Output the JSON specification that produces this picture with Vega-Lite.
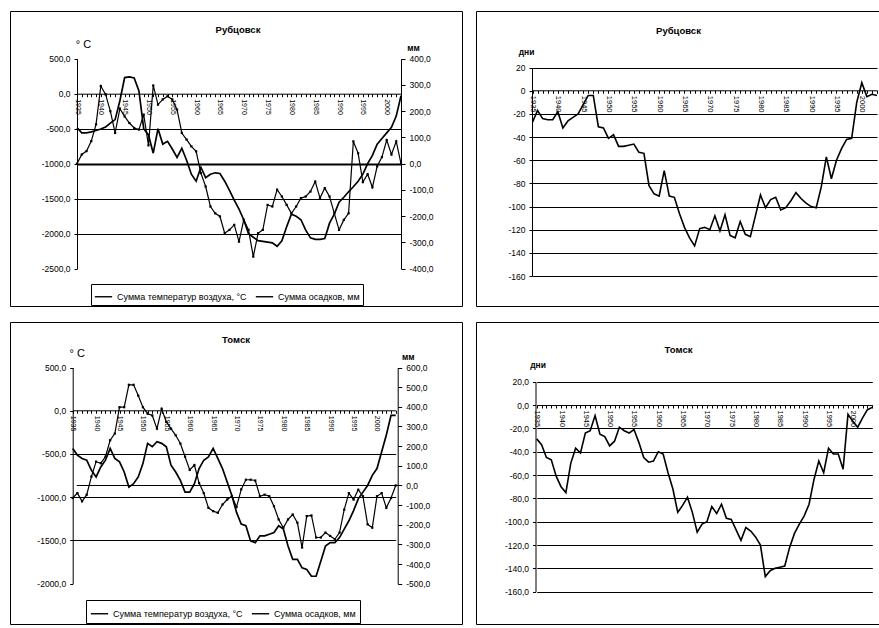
{
  "$schema": "https://vega.github.io/schema/vega-lite/v6.json",
  "background": "white",
  "padding": {"left": 9, "top": 10, "right": 0, "bottom": 0},
  "config": {
    "font": "Liberation Sans",
    "axis": {"labelFont": "Liberation Sans", "labelFontSize": 8.5, "labelColor": "#000", "domainColor": "#000", "tickColor": "#000", "gridColor": "#000", "titleFont": "Liberation Sans", "titleColor": "#000", "titleFontWeight": "normal", "labelOverlap": false},
    "title": {"font": "Liberation Sans", "fontSize": 9.5, "fontWeight": "bold", "color": "#000"},
    "legend": {"labelFont": "Liberation Sans", "labelColor": "#000"}
  },
  "datasets": {
    "rub": [
      {"year":1935,"T":-485,"P":0},{"year":1936,"T":-560,"P":35},{"year":1937,"T":-560,"P":48},{"year":1938,"T":-545,"P":86},{"year":1939,"T":-525,"P":150},
      {"year":1940,"T":-505,"P":296},{"year":1941,"T":-475,"P":264},{"year":1942,"T":-420,"P":200},{"year":1943,"T":-370,"P":117},{"year":1944,"T":-100,"P":210},
      {"year":1945,"T":230,"P":180},{"year":1946,"T":240,"P":155},{"year":1947,"T":225,"P":136},{"year":1948,"T":40,"P":130},{"year":1949,"T":-500,"P":187},
      {"year":1950,"T":-590,"P":70},{"year":1951,"T":-850,"P":298},{"year":1952,"T":-500,"P":225},{"year":1953,"T":-720,"P":245},{"year":1954,"T":-680,"P":257},
      {"year":1955,"T":-790,"P":245},{"year":1956,"T":-910,"P":206},{"year":1957,"T":-780,"P":117},{"year":1958,"T":-950,"P":92},{"year":1959,"T":-1150,"P":66},
      {"year":1960,"T":-1250,"P":47},{"year":1961,"T":-1050,"P":-36},{"year":1962,"T":-1200,"P":-87},{"year":1963,"T":-1150,"P":-163},{"year":1964,"T":-1130,"P":-189},
      {"year":1965,"T":-1140,"P":-201},{"year":1966,"T":-1250,"P":-265},{"year":1967,"T":-1380,"P":-252},{"year":1968,"T":-1520,"P":-233},{"year":1969,"T":-1650,"P":-297},
      {"year":1970,"T":-1800,"P":-214},{"year":1971,"T":-2000,"P":-252},{"year":1972,"T":-2050,"P":-354},{"year":1973,"T":-2100,"P":-265},{"year":1974,"T":-2110,"P":-252},
      {"year":1975,"T":-2120,"P":-157},{"year":1976,"T":-2130,"P":-163},{"year":1977,"T":-2180,"P":-99},{"year":1978,"T":-2100,"P":-125},{"year":1979,"T":-1900,"P":-157},
      {"year":1980,"T":-1720,"P":-189},{"year":1981,"T":-1750,"P":-163},{"year":1982,"T":-1800,"P":-131},{"year":1983,"T":-1950,"P":-125},{"year":1984,"T":-2060,"P":-106},
      {"year":1985,"T":-2080,"P":-68},{"year":1986,"T":-2080,"P":-131},{"year":1987,"T":-2070,"P":-93},{"year":1988,"T":-1850,"P":-125},{"year":1989,"T":-1720,"P":-189},
      {"year":1990,"T":-1550,"P":-252},{"year":1991,"T":-1480,"P":-214},{"year":1992,"T":-1400,"P":-189},{"year":1993,"T":-1330,"P":85},{"year":1994,"T":-1250,"P":40},
      {"year":1995,"T":-1150,"P":-70},{"year":1996,"T":-1000,"P":-40},{"year":1997,"T":-880,"P":-90},{"year":1998,"T":-720,"P":-10},{"year":1999,"T":-640,"P":25},
      {"year":2000,"T":-560,"P":90},{"year":2001,"T":-480,"P":35},{"year":2002,"T":-320,"P":85},{"year":2003,"T":-30,"P":0}
    ],
    "rubd": [
      {"year":1935,"D":-27},{"year":1936,"D":-17},{"year":1937,"D":-24},{"year":1938,"D":-25},{"year":1939,"D":-25},
      {"year":1940,"D":-18},{"year":1941,"D":-32},{"year":1942,"D":-26},{"year":1943,"D":-23},{"year":1944,"D":-20},
      {"year":1945,"D":-12},{"year":1946,"D":-4},{"year":1947,"D":-4},{"year":1948,"D":-31},{"year":1949,"D":-32},
      {"year":1950,"D":-41},{"year":1951,"D":-38},{"year":1952,"D":-48},{"year":1953,"D":-48},{"year":1954,"D":-47},
      {"year":1955,"D":-46},{"year":1956,"D":-53},{"year":1957,"D":-54},{"year":1958,"D":-82},{"year":1959,"D":-89},
      {"year":1960,"D":-91},{"year":1961,"D":-69},{"year":1962,"D":-91},{"year":1963,"D":-92},{"year":1964,"D":-106},
      {"year":1965,"D":-118},{"year":1966,"D":-127},{"year":1967,"D":-134},{"year":1968,"D":-119},{"year":1969,"D":-118},
      {"year":1970,"D":-120},{"year":1971,"D":-108},{"year":1972,"D":-121},{"year":1973,"D":-107},{"year":1974,"D":-125},
      {"year":1975,"D":-127},{"year":1976,"D":-113},{"year":1977,"D":-124},{"year":1978,"D":-126},{"year":1979,"D":-108},
      {"year":1980,"D":-90},{"year":1981,"D":-101},{"year":1982,"D":-94},{"year":1983,"D":-92},{"year":1984,"D":-103},
      {"year":1985,"D":-101},{"year":1986,"D":-95},{"year":1987,"D":-88},{"year":1988,"D":-93},{"year":1989,"D":-97},
      {"year":1990,"D":-100},{"year":1991,"D":-101},{"year":1992,"D":-83},{"year":1993,"D":-57},{"year":1994,"D":-76},
      {"year":1995,"D":-60},{"year":1996,"D":-50},{"year":1997,"D":-42},{"year":1998,"D":-41},{"year":1999,"D":-10},
      {"year":2000,"D":7},{"year":2001,"D":-5},{"year":2002,"D":-3},{"year":2003,"D":-4}
    ],
    "tom": [
      {"year":1935,"T":-436,"P":-64},{"year":1936,"T":-513,"P":-39},{"year":1937,"T":-552,"P":-81},{"year":1938,"T":-572,"P":-47},{"year":1939,"T":-689,"P":45},
      {"year":1940,"T":-766,"P":121},{"year":1941,"T":-650,"P":113},{"year":1942,"T":-572,"P":146},{"year":1943,"T":-436,"P":230},{"year":1944,"T":-552,"P":264},
      {"year":1945,"T":-591,"P":398},{"year":1946,"T":-708,"P":398},{"year":1947,"T":-883,"P":512},{"year":1948,"T":-844,"P":512},{"year":1949,"T":-766,"P":457},
      {"year":1950,"T":-611,"P":398},{"year":1951,"T":-377,"P":365},{"year":1952,"T":-416,"P":356},{"year":1953,"T":-358,"P":289},{"year":1954,"T":-377,"P":390},
      {"year":1955,"T":-416,"P":323},{"year":1956,"T":-630,"P":289},{"year":1957,"T":-708,"P":255},{"year":1958,"T":-805,"P":213},{"year":1959,"T":-941,"P":146},
      {"year":1960,"T":-941,"P":79},{"year":1961,"T":-844,"P":104},{"year":1962,"T":-669,"P":12},{"year":1963,"T":-572,"P":-39},{"year":1964,"T":-533,"P":-114},
      {"year":1965,"T":-436,"P":-131},{"year":1966,"T":-552,"P":-139},{"year":1967,"T":-669,"P":-97},{"year":1968,"T":-825,"P":-72},{"year":1969,"T":-980,"P":-55},
      {"year":1970,"T":-1175,"P":-110},{"year":1971,"T":-1311,"P":-20},{"year":1972,"T":-1330,"P":29},{"year":1973,"T":-1505,"P":29},{"year":1974,"T":-1525,"P":25},
      {"year":1975,"T":-1447,"P":-55},{"year":1976,"T":-1447,"P":-47},{"year":1977,"T":-1428,"P":-55},{"year":1978,"T":-1408,"P":-106},{"year":1979,"T":-1330,"P":-173},
      {"year":1980,"T":-1369,"P":-215},{"year":1981,"T":-1564,"P":-173},{"year":1982,"T":-1719,"P":-148},{"year":1983,"T":-1719,"P":-190},{"year":1984,"T":-1817,"P":-316},
      {"year":1985,"T":-1836,"P":-156},{"year":1986,"T":-1914,"P":-153},{"year":1987,"T":-1914,"P":-265},{"year":1988,"T":-1739,"P":-265},{"year":1989,"T":-1564,"P":-240},
      {"year":1990,"T":-1525,"P":-257},{"year":1991,"T":-1525,"P":-274},{"year":1992,"T":-1467,"P":-240},{"year":1993,"T":-1369,"P":-123},{"year":1994,"T":-1272,"P":-39},
      {"year":1995,"T":-1155,"P":-72},{"year":1996,"T":-1019,"P":-22},{"year":1997,"T":-941,"P":-55},{"year":1998,"T":-864,"P":-198},{"year":1999,"T":-747,"P":-215},
      {"year":2000,"T":-669,"P":-55},{"year":2001,"T":-475,"P":-39},{"year":2002,"T":-280,"P":-114},{"year":2003,"T":-54,"P":-64},{"year":2004,"T":-54,"P":0}
    ],
    "tomd": [
      {"year":1935,"D":-29},{"year":1936,"D":-34},{"year":1937,"D":-45},{"year":1938,"D":-47},{"year":1939,"D":-61},
      {"year":1940,"D":-70},{"year":1941,"D":-75},{"year":1942,"D":-50},{"year":1943,"D":-37},{"year":1944,"D":-41},
      {"year":1945,"D":-24},{"year":1946,"D":-22},{"year":1947,"D":-9},{"year":1948,"D":-25},{"year":1949,"D":-27},
      {"year":1950,"D":-35},{"year":1951,"D":-31},{"year":1952,"D":-19},{"year":1953,"D":-22},{"year":1954,"D":-24},
      {"year":1955,"D":-21},{"year":1956,"D":-32},{"year":1957,"D":-45},{"year":1958,"D":-49},{"year":1959,"D":-48},
      {"year":1960,"D":-40},{"year":1961,"D":-42},{"year":1962,"D":-58},{"year":1963,"D":-72},{"year":1964,"D":-92},
      {"year":1965,"D":-86},{"year":1966,"D":-79},{"year":1967,"D":-92},{"year":1968,"D":-109},{"year":1969,"D":-102},
      {"year":1970,"D":-100},{"year":1971,"D":-87},{"year":1972,"D":-93},{"year":1973,"D":-85},{"year":1974,"D":-97},
      {"year":1975,"D":-98},{"year":1976,"D":-107},{"year":1977,"D":-116},{"year":1978,"D":-105},{"year":1979,"D":-108},
      {"year":1980,"D":-113},{"year":1981,"D":-120},{"year":1982,"D":-147},{"year":1983,"D":-142},{"year":1984,"D":-140},
      {"year":1985,"D":-139},{"year":1986,"D":-138},{"year":1987,"D":-122},{"year":1988,"D":-110},{"year":1989,"D":-102},
      {"year":1990,"D":-95},{"year":1991,"D":-85},{"year":1992,"D":-64},{"year":1993,"D":-48},{"year":1994,"D":-58},
      {"year":1995,"D":-37},{"year":1996,"D":-42},{"year":1997,"D":-42},{"year":1998,"D":-55},{"year":1999,"D":-8},
      {"year":2000,"D":-14},{"year":2001,"D":-19},{"year":2002,"D":-11},{"year":2003,"D":-4},{"year":2004,"D":-2}
    ]
  },
  "columns": 2,
  "spacing": {"row": 16, "column": 14},
  "bounds": "flush",
  "resolve": {"scale": {"color": "independent"}, "legend": {"color": "independent"}},
  "concat": [
    {
      "width": 452, "height": 295,
      "view": {"stroke": "#000", "strokeWidth": 1},
      "title": {"text": "Рубцовск", "offset": -28, "baseline": "middle", "anchor": "middle", "frame": "group", "dx": 2},
      "data": {"name": "rub"},
      "resolve": {"scale": {"y": "independent"}},
      "encoding": {
        "x": {"field": "year", "type": "quantitative",
          "scale": {"domain": [1935, 2003], "range": [67, 391], "nice": false, "zero": false},
          "axis": {"orient": "bottom", "offset": -212.3, "title": null, "grid": false,
            "values": [1935,1936,1937,1938,1939,1940,1941,1942,1943,1944,1945,1946,1947,1948,1949,1950,1951,1952,1953,1954,1955,1956,1957,1958,1959,1960,1961,1962,1963,1964,1965,1966,1967,1968,1969,1970,1971,1972,1973,1974,1975,1976,1977,1978,1979,1980,1981,1982,1983,1984,1985,1986,1987,1988,1989,1990,1991,1992,1993,1994,1995,1996,1997,1998,1999,2000,2001,2002,2003],
            "labelExpr": "datum.value % 5 == 0 ? '' + datum.value : ''",
            "labelAngle": 90, "labelFontSize": 7, "labelPadding": 2, "tickSize": 3, "labelOverlap": false, "labelFlush": false}}
      },
      "layer": [
        {
          "mark": {"type": "line", "strokeWidth": 1.7},
          "encoding": {
            "y": {"field": "T", "type": "quantitative",
              "scale": {"domain": [-2500, 500], "range": [257.7, 47.7], "nice": false, "zero": false},
              "axis": {"orient": "left", "offset": -67, "values": [-2500,-2000,-1500,-1000,-500,0,500],
                "labelExpr": "replace(replace(format(datum.value, '.1f'), '.', ','), '−', '-')",
                "tickSize": 3, "labelPadding": 4, "grid": true, "labelOverlap": false,
                "gridOpacity": {"condition": {"test": "datum.value == 0 || datum.value == 500 || datum.value == -2500", "value": 0}, "value": 1},
                "gridWidth": {"condition": {"test": "datum.value == -1000", "value": 2.2}, "value": 1},
                "title": "° C", "titleAngle": 0, "titleX": 6, "titleY": 33, "titleFontSize": 11, "titleAlign": "center", "titleBaseline": "middle"}},
            "color": {"datum": "Сумма температур воздуха, °C", "type": "nominal",
              "scale": {"domain": ["Сумма температур воздуха, °C", "Сумма осадков, мм"], "range": ["#000", "#000"]},
              "legend": {"orient": "none", "legendX": 81, "legendY": 273, "direction": "horizontal", "title": null,
                "symbolType": "stroke", "symbolStrokeWidth": 1.4, "symbolSize": 300, "strokeColor": "#000", "padding": 3,
                "labelFontSize": 9, "columnPadding": 6}}
          }
        },
        {
          "encoding": {
            "y": {"field": "P", "type": "quantitative",
              "scale": {"domain": [-400, 400], "range": [257.7, 47.7], "nice": false, "zero": false},
              "axis": {"orient": "right", "offset": -61, "values": [-400,-300,-200,-100,0,100,200,300,400],
                "labelExpr": "replace(replace(format(datum.value, '.1f'), '.', ','), '−', '-')",
                "tickSize": 4, "labelPadding": 4, "grid": false, "labelOverlap": false,
                "title": "мм", "titleAngle": 0, "titleX": 12, "titleY": 36, "titleFontSize": 8.5, "titleFontWeight": "bold", "titleAlign": "center", "titleBaseline": "middle"}}
          },
          "layer": [
            {
              "mark": {"type": "line", "strokeWidth": 1.2},
              "encoding": {"color": {"datum": "Сумма осадков, мм", "type": "nominal"}}
            },
            {
              "mark": {"type": "point", "shape": "square", "filled": true, "size": 5, "color": "#000", "opacity": 1}
            }
          ]
        }
      ]
    },
    {
      "width": 403, "height": 295,
      "view": {"stroke": "#000", "strokeWidth": 1},
      "title": {"text": "Рубцовск", "offset": -29, "baseline": "middle", "anchor": "middle", "frame": "group", "dx": 1},
      "data": {"name": "rubd"},
      "mark": {"type": "line", "strokeWidth": 1.6, "color": "#000"},
      "encoding": {
        "x": {"field": "year", "type": "quantitative",
          "scale": {"domain": [1935, 2003], "range": [56.5, 401], "nice": false, "zero": false},
          "axis": {"orient": "bottom", "offset": -215.7, "title": null, "grid": false,
            "values": [1935,1936,1937,1938,1939,1940,1941,1942,1943,1944,1945,1946,1947,1948,1949,1950,1951,1952,1953,1954,1955,1956,1957,1958,1959,1960,1961,1962,1963,1964,1965,1966,1967,1968,1969,1970,1971,1972,1973,1974,1975,1976,1977,1978,1979,1980,1981,1982,1983,1984,1985,1986,1987,1988,1989,1990,1991,1992,1993,1994,1995,1996,1997,1998,1999,2000,2001,2002,2003],
            "labelExpr": "datum.value % 5 == 0 ? '' + datum.value : ''",
            "labelAngle": 90, "labelFontSize": 7.5, "labelPadding": 2, "tickSize": 3, "labelOverlap": false, "labelFlush": false}},
        "y": {"field": "D", "type": "quantitative",
          "scale": {"domain": [-160, 20], "range": [265, 56.7], "nice": false, "zero": false},
          "axis": {"orient": "left", "offset": -56, "values": [-160,-140,-120,-100,-80,-60,-40,-20,0,20],
            "labelExpr": "replace(format(datum.value, 'd'), '−', '-')",
            "tickSize": 3, "labelPadding": 4, "grid": true, "labelOverlap": false,
            "gridOpacity": {"condition": {"test": "datum.value == 0", "value": 0}, "value": 1},
            "title": "дни", "titleAngle": 0, "titleX": -6, "titleY": 40, "titleFontSize": 8.5, "titleFontWeight": "bold", "titleAlign": "center", "titleBaseline": "middle"}}
      }
    },
    {
      "width": 452, "height": 302,
      "view": {"stroke": "#000", "strokeWidth": 1},
      "title": {"text": "Томск", "offset": -27, "baseline": "middle", "anchor": "middle", "frame": "group", "dx": 0},
      "data": {"name": "tom"},
      "resolve": {"scale": {"y": "independent"}},
      "encoding": {
        "x": {"field": "year", "type": "quantitative",
          "scale": {"domain": [1935, 2004], "range": [62.7, 385.7], "nice": false, "zero": false},
          "axis": {"orient": "bottom", "offset": -213.7, "title": null, "grid": false,
            "values": [1935,1936,1937,1938,1939,1940,1941,1942,1943,1944,1945,1946,1947,1948,1949,1950,1951,1952,1953,1954,1955,1956,1957,1958,1959,1960,1961,1962,1963,1964,1965,1966,1967,1968,1969,1970,1971,1972,1973,1974,1975,1976,1977,1978,1979,1980,1981,1982,1983,1984,1985,1986,1987,1988,1989,1990,1991,1992,1993,1994,1995,1996,1997,1998,1999,2000,2001,2002,2003,2004],
            "labelExpr": "datum.value % 5 == 0 ? '' + datum.value : ''",
            "labelAngle": 90, "labelFontSize": 7, "labelPadding": 2, "tickSize": 3, "labelOverlap": false, "labelFlush": false}}
      },
      "layer": [
        {
          "mark": {"type": "line", "strokeWidth": 1.7},
          "encoding": {
            "y": {"field": "T", "type": "quantitative",
              "scale": {"domain": [-2000, 500], "range": [261.7, 45.5], "nice": false, "zero": false},
              "axis": {"orient": "left", "offset": -62.7, "values": [-2000,-1500,-1000,-500,0,500],
                "labelExpr": "replace(replace(format(datum.value, '.1f'), '.', ','), '−', '-')",
                "tickSize": 3, "labelPadding": 4, "grid": true, "labelOverlap": false,
                "gridOpacity": {"condition": {"test": "datum.value == 0 || datum.value == 500 || datum.value == -2000", "value": 0}, "value": 1},
                "title": "° C", "titleAngle": 0, "titleX": 4, "titleY": 31, "titleFontSize": 11, "titleAlign": "center", "titleBaseline": "middle"}},
            "color": {"datum": "Сумма температур воздуха, °C", "type": "nominal",
              "scale": {"domain": ["Сумма температур воздуха, °C", "Сумма осадков, мм"], "range": ["#000", "#000"]},
              "legend": {"orient": "none", "legendX": 76, "legendY": 278, "direction": "horizontal", "title": null,
                "symbolType": "stroke", "symbolStrokeWidth": 1.4, "symbolSize": 300, "strokeColor": "#000", "padding": 4,
                "labelFontSize": 9, "columnPadding": 6}}
          }
        },
        {
          "encoding": {
            "y": {"field": "P", "type": "quantitative",
              "scale": {"domain": [-500, 600], "range": [261.7, 45.5], "nice": false, "zero": false},
              "axis": {"orient": "right", "offset": -64.3, "values": [-500,-400,-300,-200,-100,0,100,200,300,400,500,600],
                "labelExpr": "replace(replace(format(datum.value, '.1f'), '.', ','), '−', '-')",
                "tickSize": 4, "labelPadding": 4, "grid": true, "labelOverlap": false,
                "gridOpacity": {"condition": {"test": "datum.value == 0", "value": 1}, "value": 0},
                "title": "мм", "titleAngle": 0, "titleX": 10, "titleY": 34, "titleFontSize": 8.5, "titleFontWeight": "bold", "titleAlign": "center", "titleBaseline": "middle"}}
          },
          "layer": [
            {
              "mark": {"type": "line", "strokeWidth": 1.2},
              "encoding": {"color": {"datum": "Сумма осадков, мм", "type": "nominal"}}
            },
            {
              "mark": {"type": "point", "shape": "square", "filled": true, "size": 5, "color": "#000", "opacity": 1}
            }
          ]
        }
      ]
    },
    {
      "width": 403, "height": 302,
      "view": {"stroke": "#000", "strokeWidth": 1},
      "title": {"text": "Томск", "offset": -37, "baseline": "middle", "anchor": "middle", "frame": "group", "dx": 1},
      "data": {"name": "tomd"},
      "mark": {"type": "line", "strokeWidth": 1.6, "color": "#000"},
      "encoding": {
        "x": {"field": "year", "type": "quantitative",
          "scale": {"domain": [1935, 2004], "range": [60.7, 396.3], "nice": false, "zero": false},
          "axis": {"orient": "bottom", "offset": -219, "title": null, "grid": false,
            "values": [1935,1936,1937,1938,1939,1940,1941,1942,1943,1944,1945,1946,1947,1948,1949,1950,1951,1952,1953,1954,1955,1956,1957,1958,1959,1960,1961,1962,1963,1964,1965,1966,1967,1968,1969,1970,1971,1972,1973,1974,1975,1976,1977,1978,1979,1980,1981,1982,1983,1984,1985,1986,1987,1988,1989,1990,1991,1992,1993,1994,1995,1996,1997,1998,1999,2000,2001,2002,2003,2004],
            "labelExpr": "datum.value % 5 == 0 ? '' + datum.value : ''",
            "labelAngle": 90, "labelFontSize": 7.5, "labelPadding": 2, "tickSize": 3, "labelOverlap": false, "labelFlush": false}},
        "y": {"field": "D", "type": "quantitative",
          "scale": {"domain": [-160, 20], "range": [269.7, 59.7], "nice": false, "zero": false},
          "axis": {"orient": "left", "offset": -59.5, "values": [-160,-140,-120,-100,-80,-60,-40,-20,0,20],
            "labelExpr": "replace(replace(format(datum.value, '.1f'), '.', ','), '−', '-')",
            "tickSize": 3, "labelPadding": 4, "grid": true, "labelOverlap": false,
            "gridOpacity": {"condition": {"test": "datum.value == 0", "value": 0}, "value": 1},
            "title": "дни", "titleAngle": 0, "titleX": 2, "titleY": 42, "titleFontSize": 8.5, "titleFontWeight": "bold", "titleAlign": "center", "titleBaseline": "middle"}}
      }
    }
  ]
}
